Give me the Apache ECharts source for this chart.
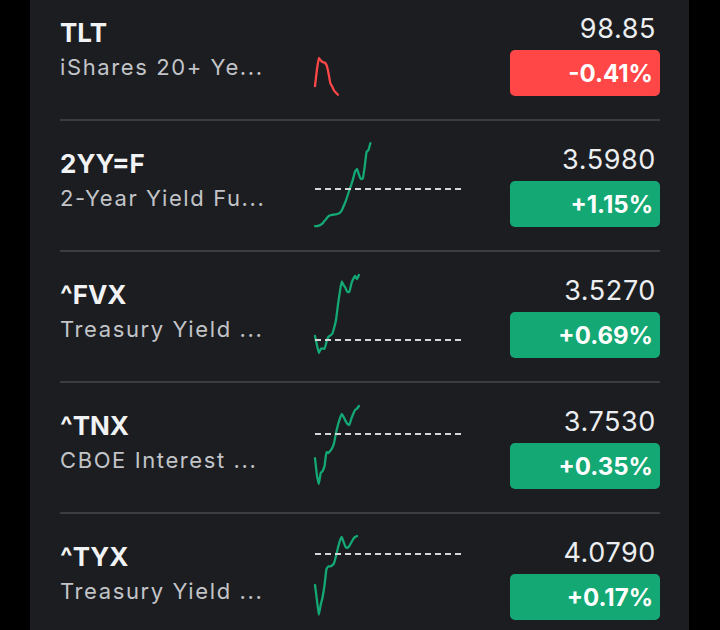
<!DOCTYPE html>
<html>
<head>
<meta charset="utf-8">
<script src="https://cdn.jsdelivr.net/npm/echarts@6/dist/echarts.min.js"></script>
<style>
html,body{margin:0;padding:0;background:#000;}
#chart{width:720px;height:630px;}
#chart text[style*="22px"]{letter-spacing:1.6px;}
#chart text[style*="27px"]{letter-spacing:0.6px;}
</style>
</head>
<body>
<div id="chart"></div>
<script>
// ---- data ----
const tickers = ['TLT', '2YY=F', '^FVX', '^TNX', '^TYX'];
const names = ['iShares 20+ Ye...', '2-Year Yield Fu...', 'Treasury Yield ...', 'CBOE Interest ...', 'Treasury Yield ...'];
const prices = ['98.85', '3.5980', '3.5270', '3.7530', '4.0790'];
const changes = ['-0.41%', '+1.15%', '+0.69%', '+0.35%', '+0.17%'];
const prevClose = [null, 3.5571, 3.5028, 3.7399, 4.0721];

const tltSpark = [98.907, 99.013, 99.092, 99.076, 99.065, 99.062, 99.046, 98.997, 98.927, 98.904, 98.878, 98.863, 98.850];
const yy2Spark = [3.5286, 3.5286, 3.5290, 3.5297, 3.5309, 3.5330, 3.5349, 3.5368, 3.5377, 3.5380, 3.5382, 3.5385, 3.5389, 3.5397, 3.5416,
  3.5454, 3.5491, 3.5538, 3.5588, 3.5634, 3.5684, 3.5743, 3.5764, 3.5717, 3.5680, 3.5681, 3.5780, 3.5906, 3.5923, 3.5980];
const fvxSpark = [3.5017, 3.4979, 3.4946, 3.4963, 3.4965, 3.4963, 3.4992, 3.5013, 3.5019, 3.5025, 3.5050, 3.5083, 3.5145, 3.5199,
  3.5243, 3.5228, 3.5216, 3.5199, 3.5199, 3.5233, 3.5253, 3.5266, 3.5253, 3.5270];
const tnxSpark = [3.7289, 3.7211, 3.7169, 3.7220, 3.7229, 3.7252, 3.7317, 3.7312, 3.7322, 3.7336, 3.7359, 3.7405, 3.7442, 3.7470,
  3.7493, 3.7479, 3.7461, 3.7447, 3.7442, 3.7470, 3.7493, 3.7512, 3.7518, 3.7530];
const tyxSpark = [4.0548, 4.0475, 4.0401, 4.0450, 4.0489, 4.0548, 4.0627, 4.0640, 4.0640, 4.0645, 4.0657, 4.0691, 4.0731, 4.0765,
  4.0785, 4.0760, 4.0736, 4.0731, 4.0741, 4.0758, 4.0775, 4.0785, 4.0790];
const sparks = [tltSpark, yy2Spark, fvxSpark, tnxSpark, tyxSpark];

// trading-day time slots (5-minute steps, 9:30 – 15:55)
const timeSlots = [];
for (let i = 0; i < 78; i++) {
  const m = 570 + i * 5;
  timeSlots.push(Math.floor(m / 60) + ':' + String(m % 60).padStart(2, '0'));
}

// axis ranges for each sparkline
const yMins = [98.845, 3.527, 3.494, 3.716, 4.039];
const yMaxs = [99.095, 3.599, 3.528, 3.7535, 4.0795];

// ---- layout ----
const ROW = 131;
const gridTops = [57.5, 142, 272.6, 404.9, 535];
const gridHeights = [38, 86, 81.9, 81, 82];
const UP = '#14a874', DOWN = '#ff4747';
const FONT = 'Inter';

const chart = echarts.init(document.getElementById('chart'), null, {renderer: 'svg'});

const grids = [], xAxes = [], yAxes = [], series = [];
const graphics = [
  {type: 'rect', z: -10, shape: {x: 30, y: 0, width: 659, height: 630}, style: {fill: '#1b1d21'}, silent: true}
];

tickers.forEach((t, i) => {
  const off = i * ROW;
  const neg = changes[i].charAt(0) === '-';
  grids.push({left: 315, width: 147, top: gridTops[i], height: gridHeights[i]});
  xAxes.push({type: 'category', gridIndex: i, data: timeSlots, boundaryGap: false, show: false});
  yAxes.push({type: 'value', gridIndex: i, min: yMins[i], max: yMaxs[i], show: false, splitLine: {show: false}});
  const s = {
    type: 'line', name: t, xAxisIndex: i, yAxisIndex: i, data: sparks[i],
    showSymbol: false, smooth: 0.1, silent: true, clip: false,
    lineStyle: {color: neg ? DOWN : UP, width: 2.3, cap: 'round', join: 'round'}
  };
  if (prevClose[i] != null) {
    s.markLine = {
      silent: true, symbol: 'none', label: {show: false},
      lineStyle: {type: [6, 4], color: '#d4d6d9', width: 2},
      data: [{yAxis: prevClose[i]}]
    };
  }
  series.push(s);

  graphics.push({
    type: 'text', x: 60, y: 32 + off,
    style: {text: t, font: 'bold 26px ' + FONT, fill: '#f1f2f4', verticalAlign: 'middle'}
  });
  graphics.push({
    type: 'text', x: 60, y: 66.5 + off,
    style: {text: names[i], font: '22px ' + FONT, fill: '#c2c4c8', verticalAlign: 'middle'}
  });
  graphics.push({
    type: 'text', x: 656, y: 28 + off,
    style: {text: prices[i], font: '27px ' + FONT, fill: '#eceef0', align: 'right', verticalAlign: 'middle'}
  });
  graphics.push({
    type: 'rect', shape: {x: 510, y: 50 + off, width: 150, height: 46, r: 5},
    style: {fill: neg ? DOWN : UP}
  });
  graphics.push({
    type: 'text', x: 653, y: 73.5 + off,
    style: {text: changes[i], font: 'bold 24px ' + FONT, fill: '#ffffff', align: 'right', verticalAlign: 'middle'}
  });
  if (i < tickers.length - 1) {
    graphics.push({
      type: 'rect', shape: {x: 60, y: 119 + off, width: 600, height: 2},
      style: {fill: '#3a3e43'}
    });
  }
});

chart.setOption({
  backgroundColor: '#000000',
  animation: false,
  grid: grids,
  xAxis: xAxes,
  yAxis: yAxes,
  series: series,
  graphic: graphics
});
</script>
</body>
</html>
